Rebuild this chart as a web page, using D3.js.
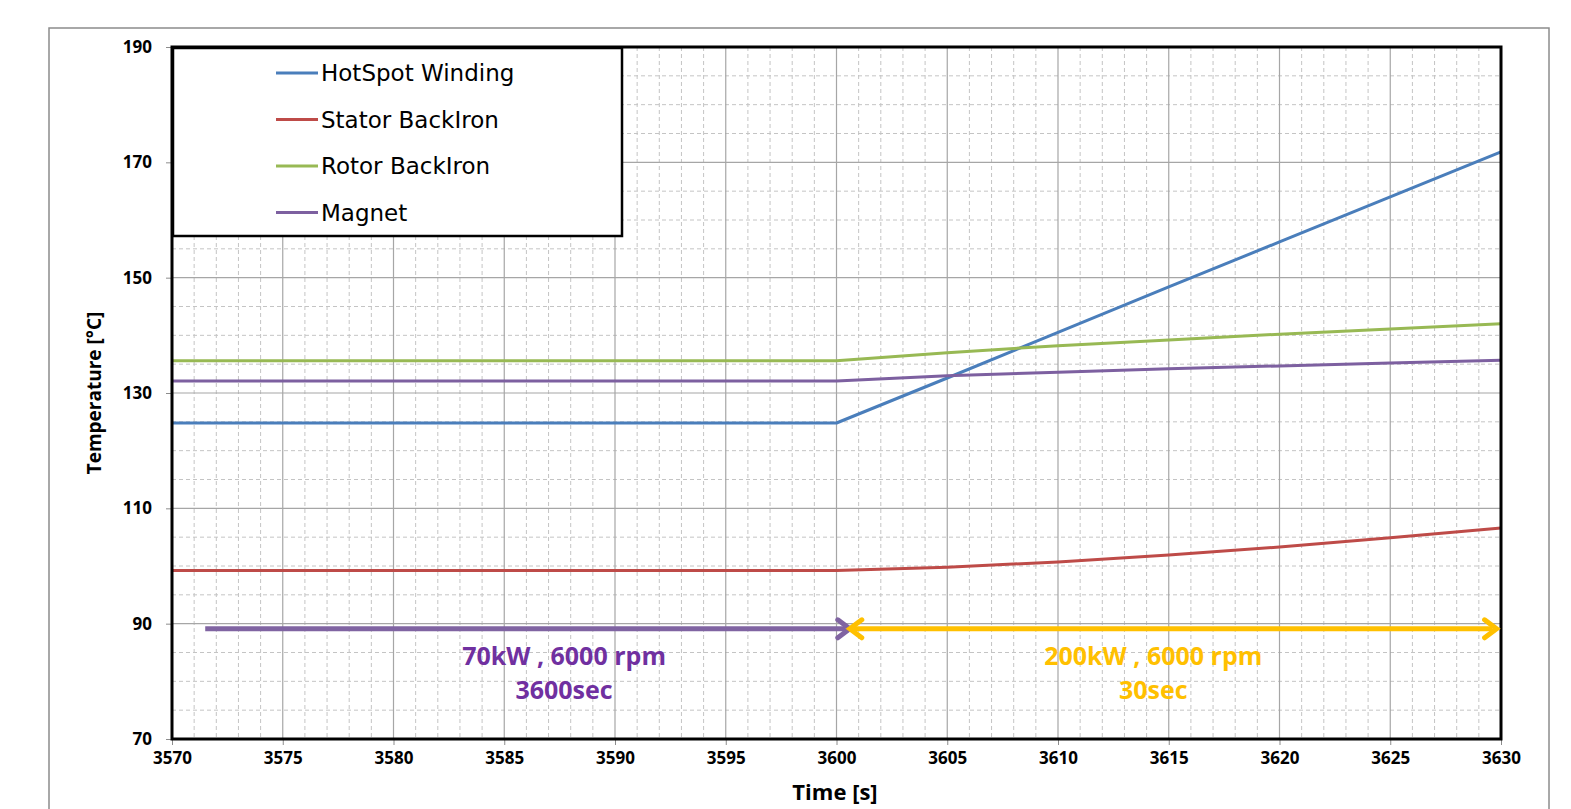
<!DOCTYPE html>
<html>
<head>
<meta charset="utf-8">
<script src="https://cdn.jsdelivr.net/npm/d3@7"></script>
<style>
body{margin:0;background:#fff;}
svg text{font-family:"Open Sans",sans-serif;}
</style>
</head>
<body>
<script>
// time axis, seconds
var times = [3570,3575,3580,3585,3590,3595,3600,3605,3610,3615,3620,3625,3630];
var hotspot = [124.8,124.8,124.8,124.8,124.8,124.8,124.8,132.6,140.5,148.4,156.2,164.0,171.8];
var stator  = [99.2,99.2,99.2,99.2,99.2,99.2,99.2,99.8,100.7,101.9,103.3,104.9,106.6];
var rotor   = [135.6,135.6,135.6,135.6,135.6,135.6,135.6,137.0,138.2,139.2,140.2,141.1,142.0];
var magnet  = [132.1,132.1,132.1,132.1,132.1,132.1,132.1,133.0,133.6,134.2,134.7,135.2,135.7];
var seriesNames = ["HotSpot Winding","Stator BackIron","Rotor BackIron","Magnet"];
var seriesColors = ["#4a7ebb","#be4b48","#98b954","#7d60a0"];
var xTicks = [3570,3575,3580,3585,3590,3595,3600,3605,3610,3615,3620,3625,3630];
var yTicks = [70,90,110,130,150,170,190];
// load phases
var phases = [
  {x0:3571.5, x1:3600.6, y:89.1, lx:3587.7, l1:"70kW , 6000 rpm", l2:"3600sec", col:"#8064a2", txt:"#7030a0", both:false},
  {x0:3600.6, x1:3629.8, y:89.1, lx:3614.3, l1:"200kW , 6000 rpm", l2:"30sec", col:"#ffc000", txt:"#ffc000", both:true}
];

var margin = {top:47, left:172},
    width = 1501 - 172,
    height = 739 - 47;

var svg = d3.select("body").append("svg")
    .attr("width",1571).attr("height",809);

// outer chart frame
svg.append("rect")
    .attr("x",49).attr("y",28).attr("width",1500).attr("height",820)
    .attr("fill","none").attr("stroke","#8c8c8c").attr("stroke-width",1.5);

var g = svg.append("g").attr("transform","translate("+margin.left+","+margin.top+")");

var x = d3.scaleLinear().domain([3570,3630]).range([0,width]);
var y = d3.scaleLinear().domain([70,190]).range([height,0]);

// minor grid
g.append("g").selectAll("line").data(d3.range(3571,3630).filter(function(d){return d%5!=0;}))
  .enter().append("line")
    .attr("x1",function(d){return x(d);}).attr("x2",function(d){return x(d);})
    .attr("y1",0).attr("y2",height)
    .attr("stroke","#c4c4c4").attr("stroke-dasharray","4,3");
g.append("g").selectAll("line").data(d3.range(75,190,5).filter(function(d){return (d-70)%20!=0;}))
  .enter().append("line")
    .attr("y1",function(d){return y(d);}).attr("y2",function(d){return y(d);})
    .attr("x1",0).attr("x2",width)
    .attr("stroke","#c4c4c4").attr("stroke-dasharray","4,3");
// major grid
g.append("g").selectAll("line").data(xTicks)
  .enter().append("line")
    .attr("x1",function(d){return x(d);}).attr("x2",function(d){return x(d);})
    .attr("y1",0).attr("y2",height)
    .attr("stroke","#a6a6a6").attr("stroke-width",1.2);
g.append("g").selectAll("line").data(yTicks)
  .enter().append("line")
    .attr("y1",function(d){return y(d);}).attr("y2",function(d){return y(d);})
    .attr("x1",0).attr("x2",width)
    .attr("stroke","#a6a6a6").attr("stroke-width",1.2);

// axes
var xAxis = d3.axisBottom(x).tickValues(xTicks).tickSize(6).tickPadding(7).tickFormat(d3.format("d"));
var yAxis = d3.axisLeft(y).tickValues(yTicks).tickSize(6).tickPadding(14).tickFormat(d3.format("d"));
var xa = g.append("g").attr("transform","translate(0,"+height+")").call(xAxis);
var ya = g.append("g").call(yAxis);
[xa,ya].forEach(function(a){
  a.select(".domain").remove();
  a.selectAll(".tick line").attr("stroke","#8c8c8c");
  a.selectAll("text").attr("font-size","17px").attr("font-weight","bold").attr("fill","#000");
});

// series lines
var line = d3.line().x(function(d,i){return x(times[i]);}).y(function(d){return y(d);});
[hotspot,stator,rotor,magnet].forEach(function(s,k){
  g.append("path").datum(s)
    .attr("fill","none").attr("stroke",seriesColors[k]).attr("stroke-width",3)
    .attr("stroke-linejoin","round")
    .attr("d",line);
});

// plot border
g.append("rect").attr("x",0).attr("y",0).attr("width",width).attr("height",height)
  .attr("fill","none").attr("stroke","#000").attr("stroke-width",3);

// phase arrows and labels
phases.forEach(function(p){
  var ax0 = x(p.x0), ax1 = x(p.x1), ay = y(p.y);
  g.append("line").attr("x1",ax0+(p.both?4:0)).attr("x2",ax1-4).attr("y1",ay).attr("y2",ay)
    .attr("stroke",p.col).attr("stroke-width",5);
  g.append("path").attr("d","M"+(ax1-12)+","+(ay-9)+"L"+ax1+","+ay+"L"+(ax1-12)+","+(ay+9))
    .attr("fill","none").attr("stroke",p.col).attr("stroke-width",5).attr("stroke-linecap","round");
  if(p.both){
    g.append("path").attr("d","M"+(ax0+12)+","+(ay-9)+"L"+ax0+","+ay+"L"+(ax0+12)+","+(ay+9))
      .attr("fill","none").attr("stroke",p.col).attr("stroke-width",5).attr("stroke-linecap","round");
  }
  var cx = x(p.lx);
  g.append("text").attr("x",cx).attr("y",ay+36).attr("text-anchor","middle")
    .attr("font-size","25px").attr("font-weight","bold").attr("fill",p.txt).text(p.l1);
  g.append("text").attr("x",cx).attr("y",ay+70).attr("text-anchor","middle")
    .attr("font-size","25px").attr("font-weight","bold").attr("fill",p.txt).text(p.l2);
});

// legend
var leg = g.append("g");
leg.append("rect").attr("x",1).attr("y",1).attr("width",449).attr("height",188)
  .attr("fill","#fff").attr("stroke","#000").attr("stroke-width",2.5);
seriesNames.forEach(function(n,k){
  var ly = 26 + k*46.5;
  leg.append("line").attr("x1",104).attr("x2",146).attr("y1",ly).attr("y2",ly)
    .attr("stroke",seriesColors[k]).attr("stroke-width",3);
  leg.append("text").attr("x",149).attr("y",ly).attr("dy","0.35em")
    .style("font-family","'DejaVu Sans',sans-serif").attr("font-size","23px").attr("fill","#000").text(n);
});

// axis titles
svg.append("text").attr("transform","translate(101,393) rotate(-90)").attr("text-anchor","middle")
  .attr("font-size","19px").attr("font-weight","bold").text("Temperature [°C]");
svg.append("text").attr("x",835).attr("y",800).attr("text-anchor","middle")
  .attr("font-size","22px").attr("font-weight","bold").text("Time [s]");
</script>
</body>
</html>
